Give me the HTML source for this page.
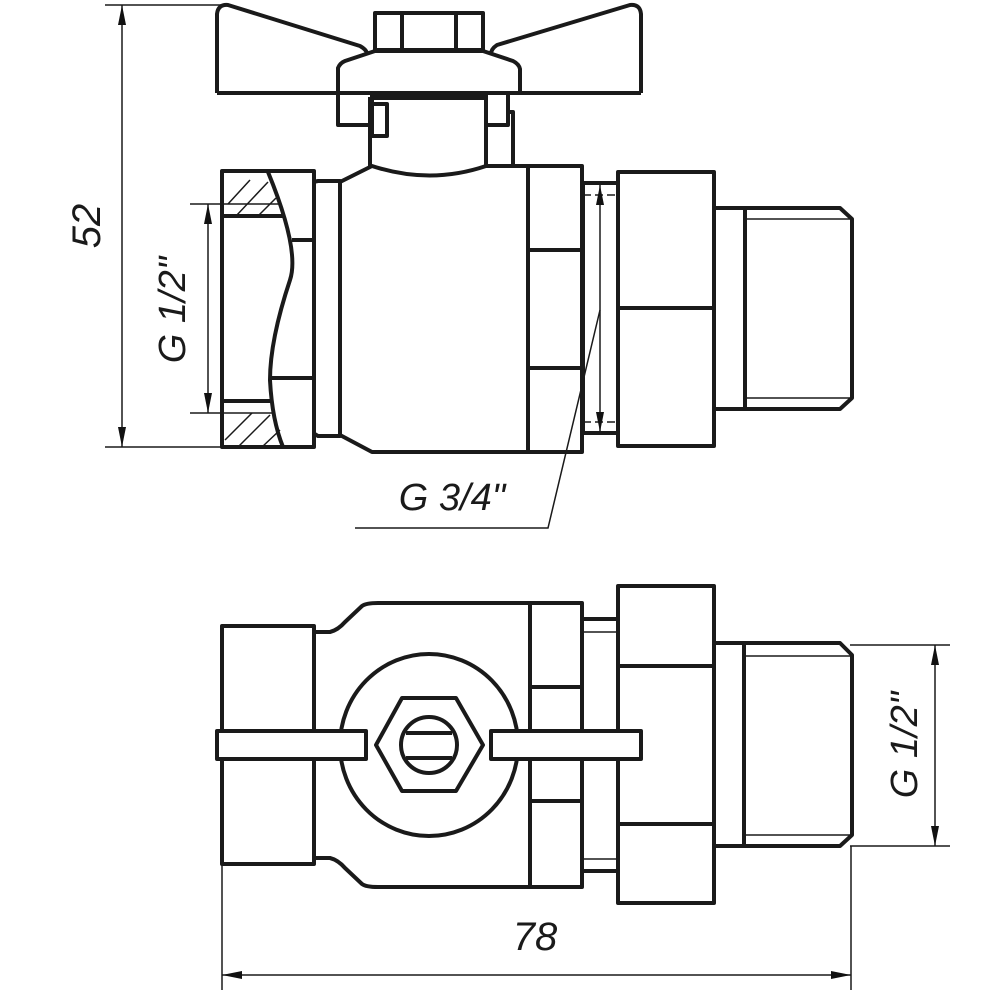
<!DOCTYPE html>
<html><head><meta charset="utf-8"><style>html,body{margin:0;padding:0;background:#fff}svg{display:block}</style></head><body>
<svg width="1000" height="1000" viewBox="0 0 1000 1000" xmlns="http://www.w3.org/2000/svg">
<defs>
<marker id="a" viewBox="0 0 20 8" refX="20" refY="4" markerWidth="20" markerHeight="8" markerUnits="userSpaceOnUse" orient="auto-start-reverse"><path d="M0,0 L20,4 L0,8 Z" fill="#111"/></marker>
</defs>
<g fill="none" stroke="#1a1a1a" stroke-width="4" stroke-linejoin="round">
<path d="M217,93 L217,14 Q218,4 228,5 L360,46 Q367,50 367,54"/>
<path d="M641,93 L641,14 Q640,4 630,5 L497,45 Q491,49 491,54"/>
<path d="M217,93 L641,93"/>
<rect x="375" y="13" width="108" height="37"/>
<line x1="402" y1="13" x2="402" y2="50"/><line x1="456" y1="13" x2="456" y2="50"/>
<path d="M338,93 L338,68 Q340,63 345,61 L375,51 L483,51 L513,61 Q519,64 520,69 L520,93"/>
<rect x="338" y="93" width="34" height="32"/>
<rect x="486" y="93" width="22" height="32"/>
<line x1="372" y1="97" x2="486" y2="97" stroke-width="6"/>
<path d="M370,97 L370,166"/><path d="M486,97 L486,166"/>
<rect x="372" y="104" width="15" height="32"/>
<path d="M508,112 L513,112 L513,166"/>
<path d="M340,182 L372,166 Q430,185 486,166 L582,166 L582,452 L372,452 L340,435 Z"/>
<line x1="528" y1="166" x2="528" y2="452"/>
<line x1="528" y1="250" x2="582" y2="250"/><line x1="528" y1="368" x2="582" y2="368"/>
<path d="M313,182 Q313,182 318,181 L340,181 L340,436 L318,436 L313,433"/>
<rect x="222" y="171" width="92" height="276"/>
<path d="M268,172 Q300,250 290,280 Q270,340 270,380 Q272,420 283,447"/>
<line x1="292" y1="240" x2="314" y2="240"/><line x1="271" y1="378" x2="314" y2="378"/>
<line x1="222" y1="216" x2="283" y2="216"/><line x1="222" y1="401" x2="272" y2="401"/>
<rect x="583" y="183" width="35" height="250"/>
<rect x="618" y="172" width="96" height="274"/>
<line x1="618" y1="308" x2="714" y2="308"/>
<path d="M714,208 L840,208 L852,219 L852,398 L840,409 L714,409"/>
<line x1="745" y1="208" x2="745" y2="409"/>
</g>
<g stroke="#1a1a1a" stroke-width="1.5" fill="none">
<line x1="745" y1="219" x2="852" y2="219"/><line x1="745" y1="398" x2="852" y2="398"/>
<line x1="583" y1="195" x2="618" y2="195" stroke-dasharray="8,4"/><line x1="583" y1="422" x2="618" y2="422" stroke-dasharray="8,4"/>
<line x1="222" y1="204" x2="280" y2="204"/><line x1="222" y1="413" x2="275" y2="413"/>
<path d="M228,204 L250,180 M236,216 L268,182 M258,216 L276,198 M225,440 L252,413 M238,447 L270,415 M262,447 L280,430"/>
<line x1="105" y1="5" x2="228" y2="5"/><line x1="105" y1="447" x2="222" y2="447"/>
<line x1="122" y1="5" x2="122" y2="447" marker-start="url(#a)" marker-end="url(#a)"/>
<line x1="190" y1="204" x2="222" y2="204"/><line x1="190" y1="413" x2="222" y2="413"/>
<line x1="208" y1="204" x2="208" y2="413" marker-start="url(#a)" marker-end="url(#a)"/>
<line x1="600" y1="185" x2="600" y2="432" marker-start="url(#a)" marker-end="url(#a)"/>
<path d="M600,310 L548,528 L355,528"/>
<line x1="222" y1="864" x2="222" y2="990"/><line x1="851" y1="846" x2="851" y2="990"/>
<line x1="222" y1="975" x2="851" y2="975" marker-start="url(#a)" marker-end="url(#a)"/>
<line x1="850" y1="645" x2="950" y2="645"/><line x1="850" y1="846" x2="950" y2="846"/>
<line x1="935" y1="645" x2="935" y2="846" marker-start="url(#a)" marker-end="url(#a)"/>
<line x1="745" y1="656" x2="850" y2="656"/><line x1="745" y1="835" x2="850" y2="835"/>
<line x1="582" y1="632" x2="618" y2="632"/><line x1="582" y1="859" x2="618" y2="859"/>
</g>
<g fill="none" stroke="#1a1a1a" stroke-width="4" stroke-linejoin="round">
<rect x="222" y="626" width="92" height="238"/>
<path d="M314,632 L330,632 Q338,630 345,622 L362,606 Q366,603 378,603 L582,603 L582,887 L378,887 Q366,887 362,884 L345,868 Q338,860 330,858 L314,858"/>
<line x1="530" y1="603" x2="530" y2="887"/>
<line x1="530" y1="687" x2="582" y2="687"/><line x1="530" y1="801" x2="582" y2="801"/>
<path d="M582,619 L618,619 M582,871 L618,871"/>
<rect x="618" y="586" width="96" height="317"/>
<line x1="618" y1="666" x2="714" y2="666"/><line x1="618" y1="824" x2="714" y2="824"/>
<path d="M714,643 L840,643 L852,655 L852,835 L840,846 L714,846"/>
<line x1="744" y1="643" x2="744" y2="846"/>
<ellipse cx="429" cy="745" rx="89" ry="91" fill="#fff"/>
<rect x="217" y="731" width="149" height="28" fill="#fff"/>
<rect x="491" y="731" width="150" height="28" fill="#fff"/>
<polygon points="376,745 402,698 456,698 483,745 456,791 402,791" fill="#fff"/>
<circle cx="429" cy="745" r="28"/>
<line x1="406" y1="733" x2="452" y2="733"/><line x1="406" y1="758" x2="452" y2="758"/>
</g>
<g font-family="Liberation Sans, sans-serif" font-style="italic" fill="#1a1a1a" font-size="40">
<text transform="translate(100,226) rotate(-90)" text-anchor="middle">52</text>
<text transform="translate(185,310) rotate(-90)" text-anchor="middle" font-size="38">G 1/2"</text>
<text x="452" y="510" text-anchor="middle" font-size="38">G 3/4"</text>
<text transform="translate(917,745) rotate(-90)" text-anchor="middle" font-size="38">G 1/2"</text>
<text x="535" y="950" text-anchor="middle">78</text>
</g>
</svg>
</body></html>
